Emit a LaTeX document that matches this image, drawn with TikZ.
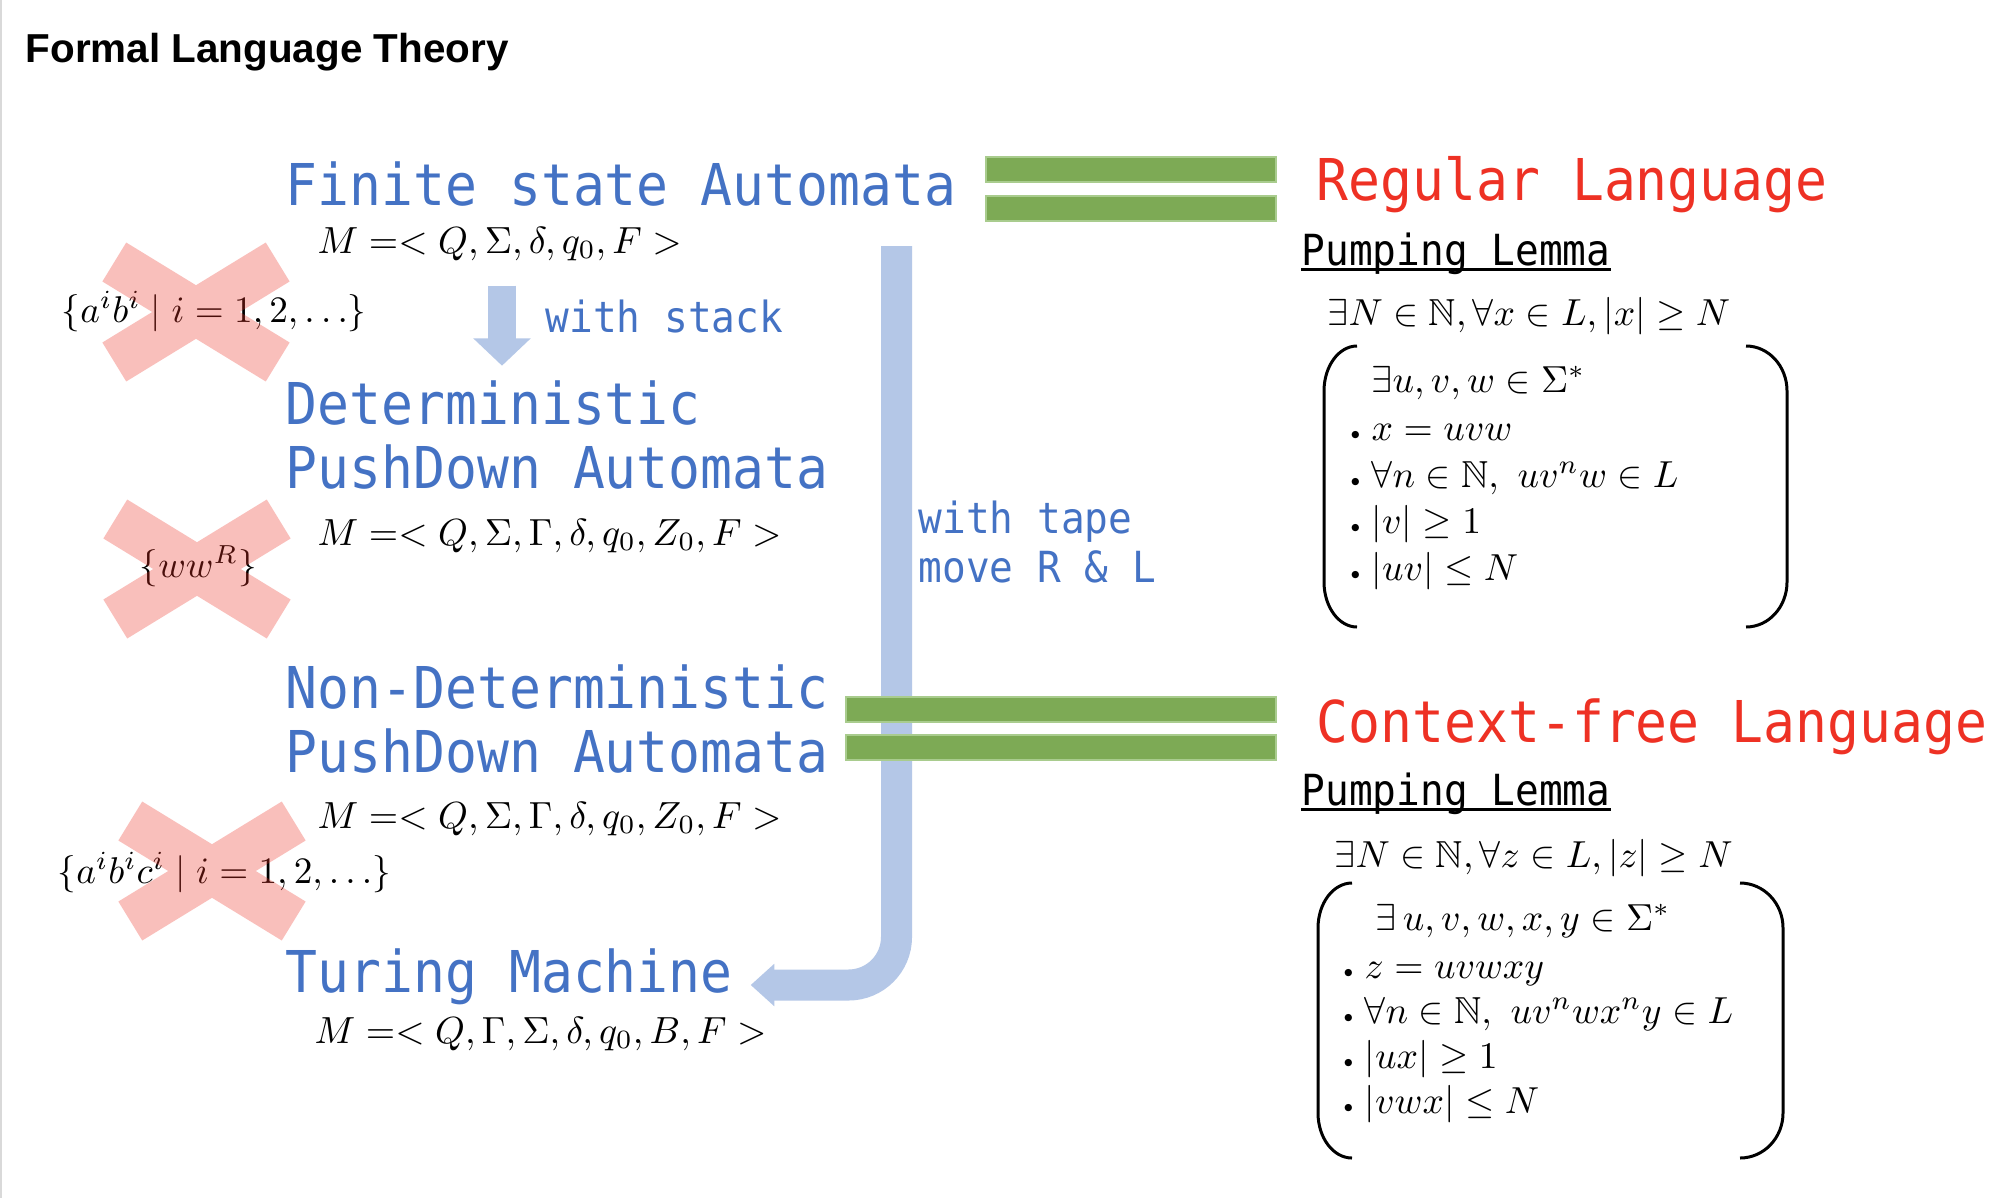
\RequirePackage{fix-cm}
\documentclass[tikz,border=0pt]{standalone}
\usepackage{fontspec}
\usepackage{amsmath,amssymb}
\usetikzlibrary{arrows.meta}
\newfontfamily\monofont[FakeStretch=0.92]{DejaVu Sans Mono}
\newfontfamily\headfont{Liberation Sans}
\definecolor{autoblue}{HTML}{4472C4}
\definecolor{arrowblue}{HTML}{B4C7E7}
\definecolor{langred}{HTML}{EE3124}
\definecolor{eqgreen}{HTML}{7DAA55}
\definecolor{eqgreenline}{HTML}{A9CC8E}
\newcommand\bul{\makebox[0.27cm][l]{\fontsize{7}{7}\selectfont\textbullet}}

\tikzset{
  automaton/.style={font=\monofont\fontsize{16.4}{18}\selectfont, text=autoblue, anchor=base west, inner sep=0pt},
  language/.style={font=\monofont\fontsize{16.4}{18}\selectfont, text=langred, anchor=base west, inner sep=0pt},
  remark/.style={font=\monofont\fontsize{12.2}{14}\selectfont, text=autoblue, anchor=base west, inner sep=0pt},
  lemma/.style={font=\monofont\fontsize{12.2}{14}\selectfont, anchor=base west, inner sep=0pt},
  tuple/.style={font=\fontsize{10.75}{12}\selectfont, anchor=base west, inner sep=0pt},
  counter/.style={font=\fontsize{10.6}{12}\selectfont, anchor=base west, inner sep=0pt},
  cond/.style={font=\fontsize{10.7}{12}\selectfont, anchor=base west, inner sep=0pt},
  eqbar/.style={fill=eqgreen, draw=eqgreenline, line width=0.6pt},
  paren/.style={line width=0.85pt},
  crossout/.style={draw=langred, draw opacity=0.31, line width=0.457cm},
  nogo/.pic={\draw[crossout] (-0.817,0.5) -- (0.817,-0.5) (-0.817,-0.5) -- (0.817,0.5);}
}

\begin{document}
\begin{tikzpicture}
  \useasboundingbox (0,0) rectangle (20.16,-11.98);
  \fill[white] (0,0) rectangle (20.16,-11.98);
  \fill[black!15] (0,0) rectangle (0.02,-11.98);

  % Title
  \node[anchor=base west, inner sep=0pt, font=\headfont\bfseries\fontsize{11.5}{14}\selectfont] (title) at (0.25,-0.62) {Formal Language Theory};

  % Arrows
  \coordinate (stacktop) at (5.02,-2.857);
  \coordinate (stackend) at (5.02,-3.657);
  \draw[arrowblue, line width=2.74mm, -{Triangle[width=5.6mm, length=2.74mm]}] (stacktop) -- (stackend);
  \coordinate (tapetop) at (8.965,-2.46);
  \coordinate (tapeend) at (7.507,-9.85);
  \draw[arrowblue, line width=3.1mm, rounded corners=4.8mm, -{Triangle[width=4.1mm, length=2.36mm]}] (tapetop) |- (tapeend);

  % Equivalence bars
  \draw[eqbar] (9.86,-1.567) rectangle (12.757,-1.823);
  \draw[eqbar] (9.86,-1.957) rectangle (12.757,-2.21);
  \draw[eqbar] (8.46,-6.97) rectangle (12.757,-7.22);
  \draw[eqbar] (8.46,-7.35) rectangle (12.757,-7.60);

  % Automata
  \node[automaton] (fsa) at (2.85,-2.05) {Finite state Automata};
  \node[tuple] (fsam) at (3.17,-2.53) {$M =< Q, \Sigma, \delta, q_0, F >$};
  \node[automaton] (dpda1) at (2.85,-4.24) {Deterministic};
  \node[automaton] (dpda2) at (2.85,-4.88) {PushDown Automata};
  \node[tuple] (dpdam) at (3.17,-5.45) {$M =< Q, \Sigma, \Gamma, \delta, q_0, Z_0, F >$};
  \node[automaton] (npda1) at (2.85,-7.08) {Non-Deterministic};
  \node[automaton] (npda2) at (2.85,-7.72) {PushDown Automata};
  \node[tuple] (npdam) at (3.17,-8.28) {$M =< Q, \Sigma, \Gamma, \delta, q_0, Z_0, F >$};
  \node[automaton] (tm) at (2.85,-9.92) {Turing Machine};
  \node[tuple] (tmm) at (3.14,-10.43) {$M =< Q, \Gamma, \Sigma, \delta, q_0, B, F >$};

  % Remarks
  \node[remark] (stack) at (5.45,-3.32) {with stack};
  \node[remark] (tape1) at (9.18,-5.33) {with tape};
  \node[remark] (tape2) at (9.18,-5.82) {move R \& L};

  % Counter examples
  \node[counter] (ce1) at (0.61,-3.22) {$\{a^ib^i \mid i=1,2,\ldots\}$};
  \node[counter] (ce2) at (1.39,-5.77) {$\{ww^R\}$};
  \node[counter] (ce3) at (0.57,-8.83) {$\{a^ib^ic^i \mid i=1,2,\ldots\}$};
  \pic at (1.96,-3.12) {nogo};
  \pic at (1.97,-5.69) {nogo};
  \pic at (2.12,-8.71) {nogo};

  % Regular language
  \node[language] (reg) at (13.16,-2.00) {Regular Language};
  \node[lemma] (pl1) at (13.01,-2.65) {Pumping Lemma};
  \draw[line width=0.85pt] ([yshift=-1.3pt]pl1.base west) -- ([yshift=-1.3pt]pl1.base east);
  \node[cond] (rq) at (13.27,-3.25) {$\exists N \in \mathbb{N}, \forall x \in L, |x| \geq N$};
  \node[cond] (r0) at (13.71,-3.92) {$\exists u, v, w \in \Sigma^*$};
  \node[cond] (r1) at (13.44,-4.40) {\bul$x = uvw$};
  \node[cond] (r2) at (13.44,-4.87) {\bul$\forall n \in \mathbb{N},\ uv^nw \in L$};
  \node[cond] (r3) at (13.44,-5.33) {\bul$|v| \geq 1$};
  \node[cond] (r4) at (13.44,-5.80) {\bul$|uv| \leq N$};
  \draw[paren] (13.57,-3.46) arc[start angle=90, end angle=180, x radius=0.33, y radius=0.45]
    -- (13.24,-5.82) arc[start angle=180, end angle=270, x radius=0.33, y radius=0.45];
  \draw[paren] (17.46,-3.46) arc[start angle=90, end angle=0, x radius=0.41, y radius=0.45]
    -- (17.87,-5.82) arc[start angle=0, end angle=-90, x radius=0.41, y radius=0.45];

  % Context-free language
  \node[language] (cfl) at (13.16,-7.42) {Context-free Language};
  \node[lemma] (pl2) at (13.01,-8.05) {Pumping Lemma};
  \draw[line width=0.85pt] ([yshift=-1.3pt]pl2.base west) -- ([yshift=-1.3pt]pl2.base east);
  \node[cond] (cq) at (13.34,-8.67) {$\exists N \in \mathbb{N}, \forall z \in L, |z| \geq N$};
  \node[cond] (c0) at (13.75,-9.30) {$\exists\, u, v, w, x, y \in \Sigma^*$};
  \node[cond] (c1) at (13.37,-9.78) {\bul$z = uvwxy$};
  \node[cond] (c2) at (13.37,-10.23) {\bul$\forall n \in \mathbb{N},\ uv^nwx^ny \in L$};
  \node[cond] (c3) at (13.37,-10.68) {\bul$|ux| \geq 1$};
  \node[cond] (c4) at (13.37,-11.13) {\bul$|vwx| \leq N$};
  \draw[paren] (13.52,-8.83) arc[start angle=90, end angle=180, x radius=0.34, y radius=0.45]
    -- (13.18,-11.13) arc[start angle=180, end angle=270, x radius=0.34, y radius=0.45];
  \draw[paren] (17.40,-8.83) arc[start angle=90, end angle=0, x radius=0.43, y radius=0.45]
    -- (17.83,-11.13) arc[start angle=0, end angle=-90, x radius=0.43, y radius=0.45];

\end{tikzpicture}
\end{document}
